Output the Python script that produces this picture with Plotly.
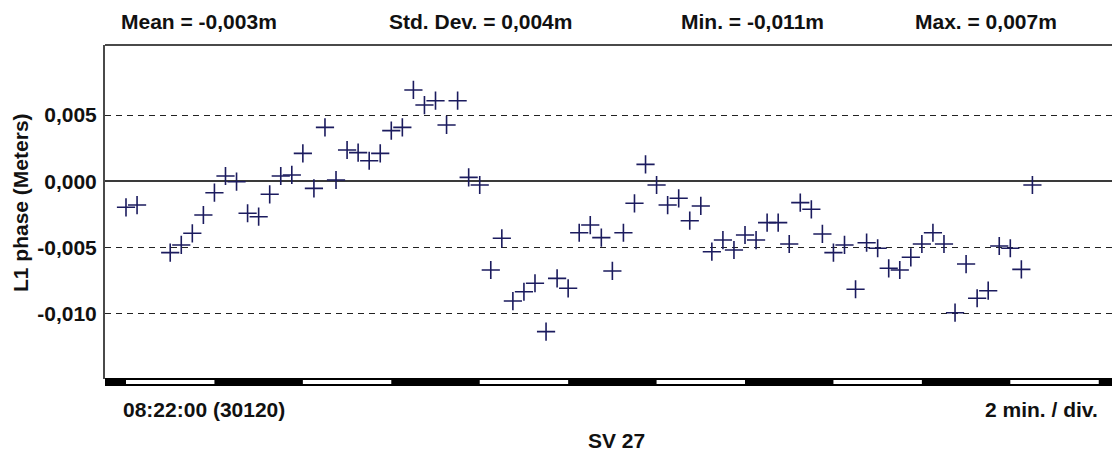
import plotly.graph_objects as go

# ---- data (seconds after 08:22:00, L1 phase residual in metres) ----
t_sec = [0, 15, 60, 75, 90, 105, 120, 135, 150, 165, 180, 195, 210, 225, 240, 255,
         270, 285, 300, 315, 330, 345, 360, 375, 390, 405, 420, 435, 450, 465, 480,
         495, 510, 525, 540, 555, 570, 585, 600, 615, 630, 645, 660, 675, 690, 705,
         720, 735, 750, 765, 780, 795, 810, 825, 840, 855, 870, 885, 900, 915, 930,
         945, 960, 975, 990, 1005, 1020, 1035, 1050, 1065, 1080, 1095, 1110, 1125,
         1140, 1155, 1170, 1185, 1200, 1215, 1230]
l1_phase = [-0.00196, -0.00179, -0.00538, -0.00480, -0.00392, -0.00254, -0.00086,
            0.00040, -0.00003, -0.00241, -0.00267, -0.00098, 0.00040, 0.00048,
            0.00211, -0.00053, 0.00407, 0.00010, 0.00236, 0.00216, 0.00155,
            0.00211, 0.00382, 0.00407, 0.00689, 0.00575, 0.00608, 0.00425,
            0.00608, 0.00030, -0.00028, -0.00669, -0.00430, -0.00903, -0.00833,
            -0.00769, -0.01134, -0.00732, -0.00807, -0.00388, -0.00330, -0.00425,
            -0.00676, -0.00388, -0.00166, 0.00128, -0.00028, -0.00179, -0.00128,
            -0.00297, -0.00186, -0.00531, -0.00443, -0.00518, -0.00405, -0.00443,
            -0.00312, -0.00312, -0.00473, -0.00161, -0.00211, -0.00397, -0.00538,
            -0.00480, -0.00814, -0.00463, -0.00505, -0.00656, -0.00669, -0.00573,
            -0.00473, -0.00388, -0.00473, -0.00991, -0.00624, -0.00882, -0.00825,
            -0.00488, -0.00505, -0.00664, -0.00028]

y_tickvals = [0.005, 0.0, -0.005, -0.010]
y_ticktext = ["0,005", "0,000", "-0,005", "-0,010"]
stats_text = ["Mean = -0,003m", "Std. Dev. = 0,004m", "Min. = -0,011m", "Max. = 0,007m"]
start_label = "08:22:00 (30120)"
scale_label = "2 min. / div."
sv_label = "SV 27"
y_title = "L1 phase (Meters)"
div_seconds = 120
x_range = [-28.5, 1338]
y_range = [-0.01491, 0.01028]

W, H = 1112, 451
L, R, T, B = 105, 0, 45, 451 - 379
PW, PH = W - L - R, H - T - B


def px(xp):
    return (xp - L) / PW


def py(yp):
    return (H - B - yp) / PH


FONT = "Arial, Liberation Sans, sans-serif"
fs = 21

fig = go.Figure()
fig.add_trace(go.Scatter(
    x=t_sec, y=l1_phase, mode="markers",
    marker=dict(symbol="cross-thin", size=13, line=dict(width=1.6, color="#1b1b5e")),
    hoverinfo="skip", showlegend=False, cliponaxis=False,
))

shapes = []
# top frame line
shapes.append(dict(type="line", xref="paper", yref="paper", x0=0, x1=1, y0=1, y1=1,
                   line=dict(color="#4a4a4a", width=2)))
# time division bar below plot
bar_top, bar_bot = py(378), py(386)
shapes.append(dict(type="rect", xref="paper", yref="paper", x0=0, x1=1,
                   y0=bar_bot, y1=bar_top, fillcolor="black", line=dict(width=0), layer="above"))
k = 0
while k * div_seconds < x_range[1]:
    a = k * div_seconds
    b = min(a + div_seconds, x_range[1])
    if k % 2 == 0:
        shapes.append(dict(type="rect", xref="x", yref="paper", x0=a, x1=b,
                           y0=py(384), y1=py(380), fillcolor="white",
                           line=dict(width=0), layer="above"))
    k += 1

annotations = []
centers = [199, 480, 752, 986]
for txt, cx in zip(stats_text, centers):
    annotations.append(dict(text=f"<b>{txt}</b>", xref="paper", yref="paper",
                            x=px(cx), y=py(21), xanchor="center", yanchor="middle",
                            showarrow=False, font=dict(family=FONT, size=fs, color="#111")))
annotations.append(dict(text=f"<b>{start_label}</b>", xref="paper", yref="paper",
                        x=px(121), y=py(410), xanchor="left", yanchor="middle",
                        showarrow=False, font=dict(family=FONT, size=fs, color="#111")))
annotations.append(dict(text=f"<b>{scale_label}</b>", xref="paper", yref="paper",
                        x=px(1100), y=py(410), xanchor="right", yanchor="middle",
                        showarrow=False, font=dict(family=FONT, size=fs, color="#111")))
annotations.append(dict(text=f"<b>{sv_label}</b>", xref="paper", yref="paper",
                        x=px(616), y=py(440), xanchor="center", yanchor="middle",
                        showarrow=False, font=dict(family=FONT, size=fs, color="#111")))
annotations.append(dict(text=f"<b>{y_title}</b>", xref="paper", yref="paper",
                        x=px(21), y=py(203), xanchor="center", yanchor="middle",
                        textangle=-90, showarrow=False,
                        font=dict(family=FONT, size=fs, color="#111")))

fig.update_layout(
    width=W, height=H, margin=dict(l=L, r=R, t=T, b=B, pad=0),
    paper_bgcolor="white", plot_bgcolor="white",
    shapes=shapes, annotations=annotations, showlegend=False,
    xaxis=dict(range=x_range, showgrid=False, zeroline=False, showline=False,
               showticklabels=False, ticks="", fixedrange=True),
    yaxis=dict(range=y_range, tickvals=y_tickvals, ticktext=[f"<b>{t}</b>" for t in y_ticktext],
               showgrid=True, gridcolor="#222", gridwidth=1, griddash="6px,5px",
               zeroline=True, zerolinecolor="#3a3a3a", zerolinewidth=2,
               showline=True, linecolor="#4a4a4a", linewidth=2, ticks="",
               ticklabelstandoff=2,
               tickfont=dict(family=FONT, size=fs, color="#111"), fixedrange=True),
)

fig.write_html("out.html")
